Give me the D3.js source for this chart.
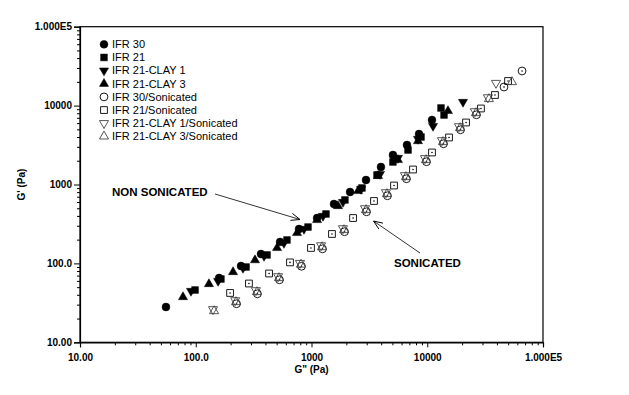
<!DOCTYPE html>
<html><head><meta charset="utf-8">
<script src="https://cdn.jsdelivr.net/npm/d3@7"></script>
<style>
html,body{margin:0;padding:0;background:#fff;}
svg{display:block;font-family:"Liberation Sans",Arial,sans-serif;}
</style></head>
<body>
<svg id="chart" width="629" height="395"></svg>
<script>
// ---- data: [G'' (Pa), G' (Pa)] ----
const seriesNames = ["IFR 30","IFR 21","IFR 21-CLAY 1","IFR 21-CLAY 3",
  "IFR 30/Sonicated","IFR 21/Sonicated","IFR 21-CLAY 1/Sonicated","IFR 21-CLAY 3/Sonicated"];
const ifr30 = [[55.3,28.0],[159,65.3],[246,92.7],[366,131.5],[535,187],[780,273],[1117,376],[1563,566],[2153,804],[2958,1140],[3981,1667],[5054,2366],[6683,3167],[8490,4365],[10990,6566]];
const ifr21 = [[98.6,46.0],[165,63.4],[272,90.0],[413,128],[614,198],[933,289],[1334,423],[1945,637],[2729,903],[3681,1318],[5054,1928],[6823,2737],[8831,4000],[13150,9330],[13960,7600]];
const ifr21clay1 = [[91.0,44.7],[156,59.8],[256,87.5],[389,124],[578,181],[861,273],[1256,399],[1871,600],[2679,877],[3908,1358],[5585,2168],[8318,3776],[11220,5510],[20370,11110]];
const ifr21clay3 = [[77.6,37.5],[130,54.8],[210,77.8],[325,110],[504,157],[750,243],[1117,355],[1694,534],[2523,828],[3758,1282],[5585,2046],[8318,3556],[15100,8550]];
const ifr30son = [[225,30.8],[341,41.2],[529,62],[819,92],[1245,153],[1929,252],[2988,451],[4530,720],[6610,1183],[9850,1944],[13820,3286],[19380,4940],[26620,7650],[46030,17200],[65920,27470]];
const ifr21son = [[198,42.2],[288,55.6],[430,74.5],[652,103],[990,157],[1503,236],[2286,376],[3467,618],[5164,971],[7534,1549],[10990,2546],[15420,3945],[21630,6105],[29100,9190],[38460,13620],[49890,20500]];
const ifr21clay1son = [[141,26.2],[219,34],[331,45.6],[514,68.5],[795,101],[1210,169],[1870,278],[2900,498],[4400,795],[6420,1307],[9560,2150],[13400,3630],[18800,5460],[25800,8460],[33400,12700],[39270,19330]];
const ifr21clay3son = [[144,24.9],[223,32.4],[338,43.4],[524,65.3],[811,96.8],[1233,161],[1910,265],[2958,475],[4487,758],[6546,1245],[9750,2046],[13680,3459],[19190,5200],[26360,8055],[34120,12130],[53950,19910]];
const xTickLabels = ["10.00","100.0","1000","10000","1.000E5"];
const yTickLabels = ["10.00","100.0","1000","10000","1.000E5"];
const annotations = [{text:"NON SONICATED"},{text:"SONICATED"}];

const allSeries = [ifr30, ifr21, ifr21clay1, ifr21clay3, ifr30son, ifr21son, ifr21clay1son, ifr21clay3son];
const kinds = ["circle","square","tdown","tup","circle","square","tdown","tup"];
const filled = [true,true,true,true,false,false,false,false];

const svg = d3.select("#chart");
const L = 80, R = 543, T = 26.7, B = 342.3;
const x = d3.scaleLog().domain([10,1e5]).range([L,R]);
const y = d3.scaleLog().domain([10,1e5]).range([B,T]);

// frame
svg.append("rect").attr("x",L).attr("y",T).attr("width",R-L).attr("height",B-T)
  .attr("fill","none").attr("stroke","#000").attr("stroke-width",1.2);

// axes
const majors = [10,100,1000,10000,100000];
const minors = [];
for (let d=10; d<1e5; d*=10) for (let k=2;k<=9;k++) minors.push(d*k);

const xAxis = d3.axisBottom(x).tickValues(majors).tickSize(5).tickFormat((d,i)=>xTickLabels[i]);
const gx = svg.append("g").attr("transform",`translate(0,${B})`).call(xAxis);
gx.select(".domain").attr("stroke","#000").attr("stroke-width",1.2);
gx.selectAll("text").attr("font-size",10).attr("font-weight","bold").attr("fill","#000").attr("dy","1.05em");
svg.append("g").attr("transform",`translate(0,${B})`)
  .call(d3.axisBottom(x).tickValues(minors).tickSize(3).tickFormat(""))
  .call(g=>g.select(".domain").remove());

const yAxis = d3.axisLeft(y).tickValues(majors).tickSize(6).tickFormat((d,i)=>yTickLabels[i]);
const gy = svg.append("g").attr("transform",`translate(${L},0)`).call(yAxis);
gy.select(".domain").attr("stroke","#000").attr("stroke-width",1.2);
gy.selectAll("text").attr("font-size",10).attr("font-weight","bold").attr("fill","#000").attr("x",-8);
svg.append("g").attr("transform",`translate(${L},0)`)
  .call(d3.axisLeft(y).tickValues(minors).tickSize(3).tickFormat(""))
  .call(g=>g.select(".domain").remove());

// axis titles
svg.append("text").attr("x",(L+R)/2).attr("y",373).attr("text-anchor","middle")
  .attr("font-size",10).attr("font-weight","bold").text('G" (Pa)');
svg.append("text").attr("transform",`translate(25,${(T+B)/2}) rotate(-90)`).attr("text-anchor","middle")
  .attr("font-size",10).attr("font-weight","bold").text("G' (Pa)");

// symbol drawing
function drawSymbol(g, kind, isFilled, cx, cy, dot) {
  let path;
  if (kind==="circle") path = d3.symbol().type(d3.symbolCircle).size(48)();
  else if (kind==="square") path = d3.symbol().type(d3.symbolSquare).size(46)();
  else path = d3.symbol().type(d3.symbolTriangle).size(36)();
  const rot = kind==="tdown" ? " rotate(180)" : "";
  g.append("path").attr("d",path).attr("transform",`translate(${cx},${cy})${rot}`)
    .attr("fill", isFilled ? "#000" : "none")
    .attr("stroke", isFilled ? "#000" : (kind==="tdown"||kind==="tup" ? "#444" : "#000"))
    .attr("stroke-width", isFilled ? 0.5 : 0.9);
  if (dot && !isFilled && (kind==="circle"||kind==="square")) {
    g.append("circle").attr("cx",cx).attr("cy",cy).attr("r",0.8).attr("fill","#000");
  }
}

const plot = svg.append("g");
allSeries.forEach((s,i)=>{
  const g = plot.append("g");
  s.forEach(d=>drawSymbol(g, kinds[i], filled[i], x(d[0]), y(d[1]), true));
});

// legend
const leg = svg.append("g");
seriesNames.forEach((n,i)=>{
  const ly = 44.3 + i*13.15;
  drawSymbol(leg, kinds[i], filled[i], 104, ly, false);
  leg.append("text").attr("x",112).attr("y",ly).attr("dy","0.35em")
    .attr("font-size",11).attr("fill","#000").text(n);
});

// annotations
svg.append("defs").append("marker").attr("id","arr").attr("viewBox","0 0 10 10")
  .attr("refX",10).attr("refY",5).attr("markerWidth",9).attr("markerHeight",9)
  .attr("orient","auto").attr("markerUnits","userSpaceOnUse")
  .append("path").attr("d","M0,1 L10,5 L0,9").attr("fill","none").attr("stroke","#000").attr("stroke-width",1);

svg.append("text").attr("x",112).attr("y",192).attr("dy","0.35em")
  .attr("font-size",11.5).attr("font-weight","bold").text(annotations[0].text);
svg.append("line").attr("x1",215).attr("y1",194).attr("x2",300).attr("y2",219.5)
  .attr("stroke","#000").attr("stroke-width",0.8).attr("marker-end","url(#arr)");

svg.append("text").attr("x",394).attr("y",263).attr("dy","0.35em")
  .attr("font-size",11.5).attr("font-weight","bold").text(annotations[1].text);
svg.append("line").attr("x1",420).attr("y1",253).attr("x2",373.5).attr("y2",221)
  .attr("stroke","#000").attr("stroke-width",0.8).attr("marker-end","url(#arr)");
</script>
</body></html>
